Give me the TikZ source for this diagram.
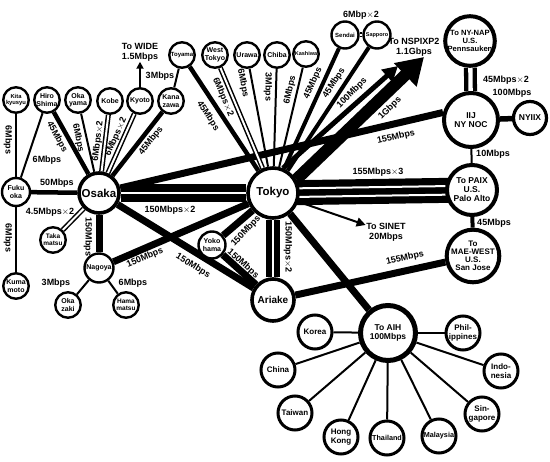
\documentclass[tikz,border=0pt]{standalone}
\usepackage{fontspec}
\setmainfont{Liberation Sans}
\usetikzlibrary{arrows.meta,backgrounds}

\begin{document}
\begin{tikzpicture}[x=1pt,y=-1pt,
		city/.style={circle,draw,fill=white,line width=2.4pt,inner sep=0pt,minimum size=25.5pt,align=center,font=\bfseries\fontsize{7}{7.5}\selectfont},
		hub/.style={circle,draw,fill=white,line width=3.6pt,inner sep=0pt,font=\bfseries\fontsize{11.5}{12}\selectfont},
		site/.style={circle,draw,fill=white,line width=4pt,inner sep=0pt,align=center,font=\bfseries\fontsize{8.5}{9}\selectfont},
		asia/.style={circle,draw,fill=white,line width=3pt,inner sep=0pt,minimum size=34pt,align=center,font=\bfseries\fontsize{8}{8.5}\selectfont},
		rate/.style={inner sep=0.5pt,align=center,font=\bfseries\fontsize{9}{10}\selectfont},
		lnS/.style={line width=2pt},
		lnM/.style={line width=4.5pt},
		lnL/.style={line width=7pt},
		lnD/.style={double,line width=1.5pt,double distance=2pt},
		arrowhd/.style={-{Triangle[length=#1,width=#1]}}]
		\useasboundingbox (0,0) rectangle (550,462);
		
		\node[hub,minimum size=40pt] (osaka) at (99,193) {Osaka};
		\node[hub,minimum size=50pt] (tokyo) at (273,193) {Tokyo};
		\node[hub,minimum size=42pt,font=\bfseries\fontsize{10}{10}\selectfont] (ariake) at (273,300) {Ariake};
		
		\node[city,font=\bfseries\fontsize{5.8}{6.5}\selectfont] (kitakyusyu) at (16,100) {Kita\\kyusyu};
		\node[city] (hiroshima) at (47,100) {Hiro\\Shima};
		\node[city] (okayama) at (78,100) {Oka\\yama};
		\node[city] (kobe) at (110,101) {Kobe};
		\node[city] (kyoto) at (140,101) {Kyoto};
		\node[city] (kanazawa) at (171,101) {Kana\\zawa};
		\node[city,minimum size=28pt] (fukuoka) at (16,192) {Fuku\\oka};
		\node[city] (kumamoto) at (16,286) {Kuma\\moto};
		\node[city,font=\bfseries\fontsize{6.5}{7}\selectfont] (takamatsu) at (53,240) {Taka\\matsu};
		\node[city,minimum size=29pt] (nagoya) at (99,268) {Nagoya};
		\node[city] (okazaki) at (68,305) {Oka\\zaki};
		\node[city,font=\bfseries\fontsize{6.5}{7}\selectfont] (hamamatsu) at (126,305) {Hama\\matsu};
		\node[city,minimum size=27pt] (yokohama) at (212,245) {Yoko\\hama};
		
		\node[city,font=\bfseries\fontsize{6}{6.5}\selectfont] (toyama) at (182,55) {Toyama};
		\node[city] (westtokyo) at (215,55) {West\\Tokyo};
		\node[city] (urawa) at (247,55) {Urawa};
		\node[city] (chiba) at (277,55) {Chiba};
		\node[city,font=\bfseries\fontsize{5.5}{6}\selectfont] (kashiwa) at (306,54) {Kashiwa};
		\node[city,minimum size=27pt,font=\bfseries\fontsize{6}{6.5}\selectfont] (sendai) at (345,35) {Sendai};
		\node[city,minimum size=27pt,font=\bfseries\fontsize{5.5}{6}\selectfont] (sapporo) at (377,35) {Sapporo};
		
		\node[site,minimum size=48pt,font=\bfseries\fontsize{7.6}{8.2}\selectfont] (nynap) at (470,41) {To NY-NAP\\U.S.\\Pennsauken};
		\node[site,minimum size=54pt] (iij) at (471,120) {IIJ\\NY NOC};
		\node[site,line width=3.2pt,minimum size=33pt] (nyiix) at (530,118) {NYIIX};
		\node[site,minimum size=50pt] (paix) at (472,190) {To PAIX\\U.S.\\Palo Alto};
		\node[site,minimum size=52pt,font=\bfseries\fontsize{8}{8}\selectfont] (maewest) at (473,256) {To\\MAE-WEST\\U.S.\\San Jose};
		\node[site,line width=5pt,minimum size=55pt] (aih) at (388,333) {To AIH\\100Mbps};
		
		\node[asia] (korea) at (315,332) {Korea};
		\node[asia] (china) at (278,370) {China};
		\node[asia] (taiwan) at (295,413) {Taiwan};
		\node[asia] (hongkong) at (341,437) {Hong\\Kong};
		\node[asia,font=\bfseries\fontsize{7.2}{8}\selectfont] (thailand) at (387,438) {Thailand};
		\node[asia,font=\bfseries\fontsize{7.2}{8}\selectfont] (malaysia) at (439,436) {Malaysia};
		\node[asia] (singapore) at (482,414) {Sin-\\gapore};
		\node[asia] (indonesia) at (501,371) {Indo-\\nesia};
		\node[asia] (philippines) at (463,333) {Phil-\\ippines};
		
		\node[rate] (wide) at (140,52) {To WIDE\\1.5Mbps};
		\node[rate] (nspixp) at (414,47) {To NSPIXP2\\1.1Gbps};
		\node[rate] (sinet) at (386,232) {To SINET\\20Mbps};
		\coordinate (nspA) at (398,66);
		\coordinate (nspB) at (424,57);
		
		\begin{pgfonlayer}{background}
		\draw[lnS] (kitakyusyu) -- (fukuoka);
		\draw[lnS] (hiroshima) -- (fukuoka);
		\draw[lnM] (hiroshima) -- (osaka);
		\draw[lnS] (okayama) -- (osaka);
		\draw[lnD] (kobe) -- (osaka);
		\draw[lnD] (kyoto) -- (osaka);
		\draw[lnM] (kanazawa) -- (osaka);
		\draw[lnS] (kanazawa) -- (toyama);
		\draw[lnS,arrowhd=7pt] (kyoto) -- (wide);
		\draw[lnM] (fukuoka) -- (osaka);
		\draw[lnS] (fukuoka) -- (kumamoto);
		\draw[lnD] (osaka) -- (takamatsu);
		\draw[lnL] (osaka) -- (nagoya);
		\draw[lnS] (nagoya) -- (okazaki);
		\draw[lnS] (nagoya) -- (hamamatsu);
		\draw[lnL] (nagoya) -- (tokyo);
		\draw[lnL] (osaka) -- (ariake);
		\draw[lnL] (osaka) -- (iij.165);
		\draw[double,line width=7.5pt,double distance=2.5pt] (osaka) -- (tokyo);
		\draw[lnM] (toyama) -- (tokyo);
		\draw[lnD] (westtokyo) -- (tokyo);
		\draw[lnS] (urawa) -- (tokyo);
		\draw[lnS] (chiba) -- (tokyo);
		\draw[lnS] (kashiwa) -- (tokyo);
		\draw[line width=4pt] (sendai) -- (tokyo);
		\draw[line width=4pt] (sapporo) -- (tokyo);
		\draw[lnD] (sendai) -- (sapporo);
		\draw[line width=5pt,-{Triangle[length=15pt,width=16pt]}] (tokyo.68) -- (nspA);
		\draw[line width=12pt,-{Triangle[length=26pt,width=31pt]}] (tokyo.30) -- (nspB);
		\draw[line width=25pt] (tokyo.center) -- (paix.center);
		\draw[white,line width=2pt,transform canvas={yshift=4.3pt}] (tokyo.center) -- (paix.center);
		\draw[white,line width=2pt,transform canvas={yshift=-4.3pt}] (tokyo.center) -- (paix.center);
		\draw[lnS,arrowhd=9pt] (tokyo) -- (sinet);
		\draw[double,line width=5.8pt,double distance=2.4pt] (tokyo) -- (ariake);
		\draw[lnL] (yokohama) -- (tokyo);
		\draw[lnL] (yokohama) -- (ariake);
		\draw[lnL] (ariake) -- (maewest);
		\draw[lnL] (tokyo) -- (aih);
		\draw[double,line width=4.3pt,double distance=4.3pt] (nynap) -- (iij);
		\draw[line width=5.5pt] (iij) -- (nyiix);
		\draw[lnS] (iij) -- (paix);
		\draw[line width=4pt] (paix) -- (maewest);
		\foreach \c in {korea,china,taiwan,hongkong,thailand,malaysia,singapore,indonesia,philippines}
		\draw[lnS] (aih) -- (\c);
		\end{pgfonlayer}
		
		\node[rate,rotate=-90] (r1) at (8,140) {6Mbps};
		\node[rate] (r2) at (47,160) {6Mbps};
		\node[rate,rotate=-61] (r3) at (57,137) {45Mbps};
		\node[rate,rotate=-78] (r4) at (78,138) {6Mbps};
		\node[rate,rotate=83] (r5) at (98,141) {6Mbps$\times$2};
		\node[rate,rotate=66] (r6) at (116,137) {6Mbps$\times$2};
		\node[rate,rotate=52] (r7) at (151,141) {45Mbps};
		\node[rate] (r8) at (160,76) {3Mbps};
		\node[rate] (r9) at (57,183) {50Mbps};
		\node[rate] (r10) at (50,212) {4.5Mbps$\times$2};
		\node[rate,rotate=-90] (r11) at (8,238) {6Mbps};
		\node[rate,rotate=-90] (r12) at (88,237) {150Mbps};
		\node[rate] (r13) at (56,283) {3Mbps};
		\node[rate] (r14) at (133,283) {6Mbps};
		\node[rate,rotate=23] (r15) at (145,258) {150Mbps};
		\node[rate,rotate=-32] (r16) at (193,266) {150Mbps};
		\node[rate] (r17) at (170,210) {150Mbps$\times$2};
		\node[rate,rotate=47] (r18) at (246,231) {150Mbps};
		\node[rate,rotate=-42] (r19) at (243,264) {150Mbps};
		\node[rate,rotate=-90] (r20) at (288,247) {150Mbps$\times$2};
		\node[rate,rotate=-57] (r21) at (208,116) {45Mbps};
		\node[rate,rotate=-67] (r22) at (223,97) {6Mbps$\times$2};
		\node[rate,rotate=-79] (r23) at (243,83) {6Mbps};
		\node[rate,rotate=-90] (r24) at (268,87) {3Mbps};
		\node[rate,rotate=77] (r25) at (290,90) {6Mbps};
		\node[rate,rotate=66] (r26) at (313,83) {45Mbps};
		\node[rate,rotate=57] (r27) at (334,83) {45Mbps};
		\node[rate,rotate=45] (r28) at (352,93) {100Mbps};
		\node[rate,rotate=45] (r29) at (390,108) {1Gbps};
		\node[rate] (r30) at (361,15) {6Mbp$\times$2};
		\node[rate,rotate=13] (r31) at (396,137) {155Mbps};
		\node[rate] (r32) at (506,80) {45Mbps$\times$2};
		\node[rate] (r33) at (512,93) {100Mbps};
		\node[rate] (r34) at (493,154) {10Mbps};
		\node[rate] (r35) at (378,172) {155Mbps$\times$3};
		\node[rate] (r36) at (494,223) {45Mbps};
		\node[rate,rotate=13] (r37) at (405,258) {155Mbps};
\end{tikzpicture}
\end{document}
